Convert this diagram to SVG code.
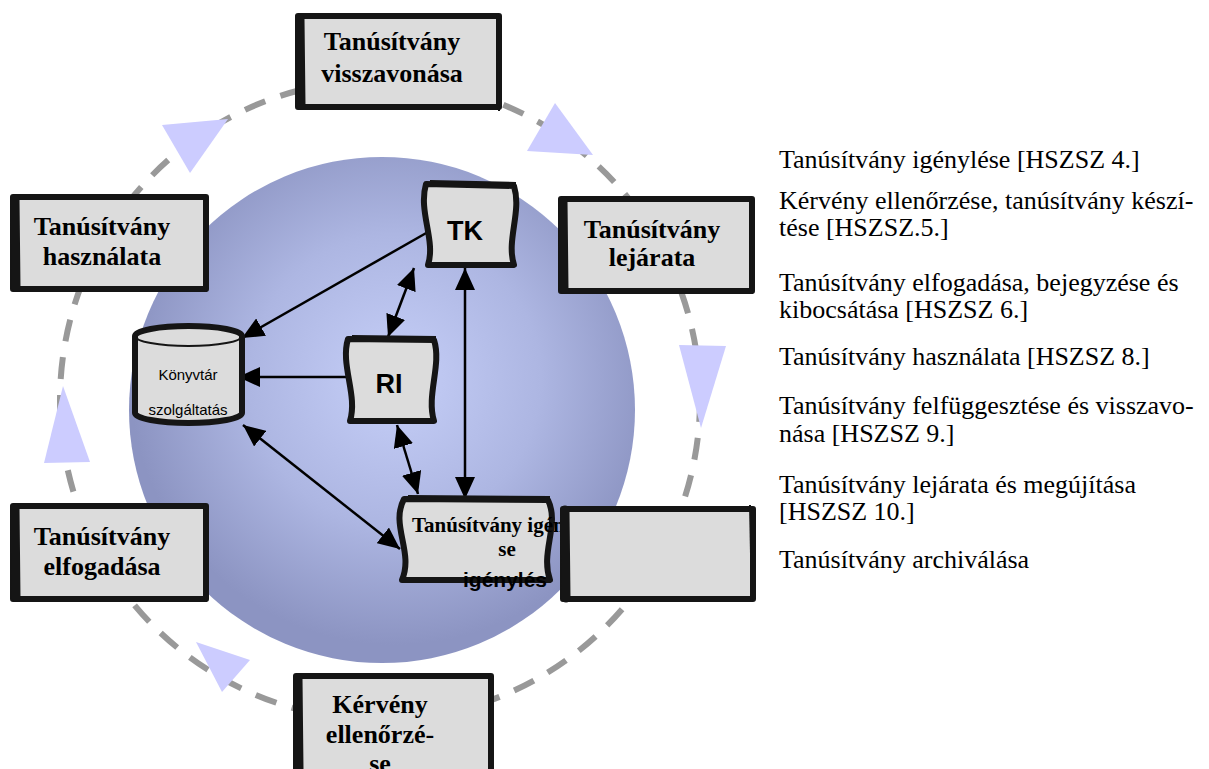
<svg xmlns="http://www.w3.org/2000/svg" width="1209" height="769" viewBox="0 0 1209 769">
<defs>
<radialGradient id="bg" cx="395" cy="380" r="265" gradientUnits="userSpaceOnUse">
<stop offset="0" stop-color="#c6cff8"/>
<stop offset="0.55" stop-color="#adb6e2"/>
<stop offset="1" stop-color="#8c94c2"/>
</radialGradient>
<marker id="ah" markerWidth="22" markerHeight="20" refX="22" refY="10" orient="auto-start-reverse" markerUnits="userSpaceOnUse">
<path d="M0,0 L22,10 L0,20 Z" fill="#000"/>
</marker>
<style>
.box{fill:#dcdcdc;stroke:#151515;stroke-width:6;stroke-linejoin:round}
.sk{fill:none;stroke:#151515;stroke-width:2}
.heavy{fill:none;stroke:#151515;stroke-width:9;stroke-linecap:round}
.bt{font-family:"Liberation Serif","Times New Roman",serif;font-weight:bold;font-size:26px;fill:#000;text-anchor:middle}
.side{font-family:"Liberation Serif","Times New Roman",serif;font-size:26px;fill:#000}
.sans{font-family:"Liberation Sans",Arial,sans-serif;fill:#000}
.con{stroke:#000;stroke-width:2.5;fill:none}
.tri{fill:#ccccff}
</style>
</defs>
<rect width="1209" height="769" fill="#fff"/>
<circle cx="382" cy="410" r="253" fill="url(#bg)"/>
<circle cx="380" cy="400" r="320" fill="none" stroke="#999" stroke-width="6" stroke-dasharray="22 16"/>
<g id="flow-triangles">
<polygon class="tri" points="162,125 228,119 190,173"/>
<polygon class="tri" points="555,103 527,151 593,155"/>
<polygon class="tri" points="679,345 726,346 701,428"/>
<polygon class="tri" points="63,386 44,463 90,462"/>
<polygon class="tri" points="196,642 250,660 222,692"/>
</g>
<g id="connectors">
<line class="con" x1="428" y1="232" x2="242" y2="338" marker-end="url(#ah)"/>
<line class="con" x1="347" y1="377" x2="238" y2="377" marker-end="url(#ah)"/>
<line class="con" x1="414" y1="268" x2="388" y2="337" marker-start="url(#ah)" marker-end="url(#ah)"/>
<line class="con" x1="465" y1="268" x2="465" y2="499" marker-start="url(#ah)" marker-end="url(#ah)"/>
<line class="con" x1="397" y1="425" x2="418" y2="494" marker-start="url(#ah)" marker-end="url(#ah)"/>
<line class="con" x1="243" y1="425" x2="400" y2="549" marker-start="url(#ah)" marker-end="url(#ah)"/>
</g>
<g id="konyvtar">
<path class="box" d="M135,336 L135,413 A53.5,10 0 0 0 242,413 L242,336 A53.5,10 0 0 0 135,336 Z"/>
<path class="sk" d="M135,336 A53.5,10 0 0 0 242,336"/>
<text class="sans" x="188" y="380" font-size="15" text-anchor="middle">Könyvtár</text>
<text class="sans" x="188" y="415" font-size="15" text-anchor="middle">szolgáltatás</text>
</g>
<g id="tk">
<path class="box" d="M426,184 L514,186 C522,212 506,240 514,265 L428,265 C436,240 418,212 426,184 Z"/>
<path class="sk" d="M430,181 L516,183"/>
<text class="sans" x="465" y="240" font-size="27" font-weight="bold" text-anchor="middle">TK</text>
</g>
<g id="ri">
<path class="box" d="M348,339 L434,340 C442,365 426,395 434,421 L350,421 C358,395 340,365 348,339 Z"/>
<path class="sk" d="M352,336 L436,337"/>
<text class="sans" x="389" y="393" font-size="27" font-weight="bold" text-anchor="middle">RI</text>
</g>
<g id="igenyles">
<path class="box" d="M404,499 L548,500 C560,525 540,552 550,580 L402,580 C414,552 390,525 404,499 Z"/>
<path class="sk" d="M408,496 L550,497"/>
<text class="bt" x="412" y="532" style="font-size:21px;text-anchor:start">Tanúsítvány igénylé</text>
<text class="bt" x="507" y="556" style="font-size:21px">se</text>
<text class="sans" x="505" y="587" font-size="21" font-weight="bold" text-anchor="middle">igénylés</text>
</g>
<g id="archivalas">
<rect class="box" x="563" y="509" width="190" height="90"/>
<path class="heavy" d="M565,510 L566,598"/>
<path class="sk" d="M750,505 L752,602"/>
</g>
<g id="visszavonasa">
<rect class="box" x="298" y="16" width="201" height="91"/>
<path class="heavy" d="M300,19 L301,105"/>
<path class="sk" d="M497,13 L499,111"/>
<text class="bt" x="392" y="50">Tanúsítvány</text>
<text class="bt" x="392" y="82">visszavonása</text>
</g>
<g id="hasznalata">
<rect class="box" x="13" y="197" width="193" height="92"/>
<path class="heavy" d="M15,199 L16,287"/>
<path class="sk" d="M204,194 L206,292"/>
<text class="bt" x="102" y="235">Tanúsítvány</text>
<text class="bt" x="102" y="265">használata</text>
</g>
<g id="lejarata">
<rect class="box" x="561" y="199" width="191" height="92"/>
<path class="heavy" d="M563,201 L564,289"/>
<path class="sk" d="M750,196 L752,294"/>
<text class="bt" x="652" y="238">Tanúsítvány</text>
<text class="bt" x="652" y="266">lejárata</text>
</g>
<g id="elfogadasa">
<rect class="box" x="13" y="506" width="193" height="93"/>
<path class="heavy" d="M15,508 L16,597"/>
<path class="sk" d="M204,503 L206,602"/>
<text class="bt" x="102" y="545">Tanúsítvány</text>
<text class="bt" x="102" y="575">elfogadása</text>
</g>
<g id="kerveny">
<rect class="box" x="296" y="676" width="195" height="100"/>
<path class="heavy" d="M298,678 L299,769"/>
<path class="sk" d="M489,673 L491,769"/>
<text class="bt" x="380" y="713">Kérvény</text>
<text class="bt" x="380" y="743">ellenőrzé-</text>
<text class="bt" x="380" y="772">se</text>
</g>
<g id="legend">
<text class="side" x="779" y="168">Tanúsítvány igénylése [HSZSZ 4.]</text>
<text class="side" x="779" y="209">Kérvény ellenőrzése, tanúsítvány készí-</text>
<text class="side" x="779" y="236">tése [HSZSZ.5.]</text>
<text class="side" x="779" y="291">Tanúsítvány elfogadása, bejegyzése és</text>
<text class="side" x="779" y="318">kibocsátása [HSZSZ 6.]</text>
<text class="side" x="779" y="365">Tanúsítvány használata [HSZSZ 8.]</text>
<text class="side" x="779" y="414">Tanúsítvány felfüggesztése és visszavo-</text>
<text class="side" x="779" y="442">nása [HSZSZ 9.]</text>
<text class="side" x="779" y="493">Tanúsítvány lejárata és megújítása</text>
<text class="side" x="779" y="520">[HSZSZ 10.]</text>
<text class="side" x="779" y="568">Tanúsítvány archiválása</text>
</g>
</svg>
